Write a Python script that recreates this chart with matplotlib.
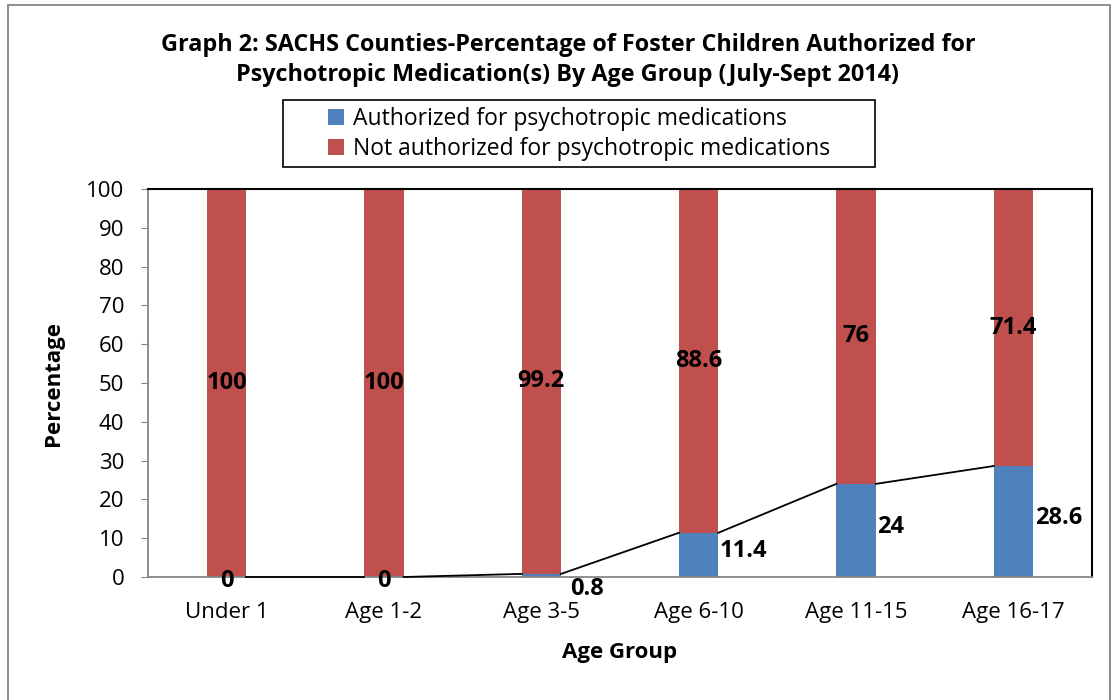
import numpy as np
import matplotlib.pyplot as plt
from matplotlib.patches import Rectangle

plt.rcParams['font.family'] = ['Open Sans', 'DejaVu Sans']

# Datos
grupos = ['Under 1', 'Age 1-2', 'Age 3-5', 'Age 6-10', 'Age 11-15', 'Age 16-17']
autorizados = [0, 0, 0.8, 11.4, 24, 28.6]
no_autorizados = [100, 100, 99.2, 88.6, 76, 71.4]
etiquetas_aut = ['0', '0', '0.8', '11.4', '24', '28.6']
etiquetas_no = ['100', '100', '99.2', '88.6', '76', '71.4']

azul = '#4F81BD'
rojo = '#C0504D'

fig = plt.figure(figsize=(11.17, 7), dpi=100)
ax = fig.add_axes([148 / 1117, 1 - 577 / 700, 944 / 1117, 388 / 700])

x = np.arange(len(grupos))
ancho = 0.25
b1 = ax.bar(x, autorizados, ancho, color=azul, label='Authorized for psychotropic medications', zorder=2)
b2 = ax.bar(x, no_autorizados, ancho, bottom=autorizados, color=rojo,
            label='Not authorized for psychotropic medications', zorder=2)

# lineas de serie (de la esquina derecha de una barra a la izquierda de la siguiente)
for i in range(len(x) - 1):
    ax.plot([x[i] + ancho / 2, x[i + 1] - ancho / 2], [autorizados[i], autorizados[i + 1]],
            color='black', lw=1.3, zorder=3, clip_on=False)

# etiquetas
tam = 17
for i in range(len(x)):
    ax.text(x[i], autorizados[i] + no_autorizados[i] / 2, etiquetas_no[i], ha='center', va='center',
            fontsize=tam, fontweight='bold', zorder=4)
    if autorizados[i] == 0:
        ax.text(x[i], -1, etiquetas_aut[i], ha='center', va='center', fontsize=tam,
                fontweight='bold', zorder=4, clip_on=False)
    elif autorizados[i] < 5:
        ax.text(x[i] + ancho / 2 + 0.06, -3.2, etiquetas_aut[i], ha='left', va='center',
                fontsize=tam, fontweight='bold', zorder=4, clip_on=False)
    else:
        ax.text(x[i] + ancho / 2 + 0.01, autorizados[i] / 2 + 1, etiquetas_aut[i], ha='left', va='center',
                fontsize=tam, fontweight='bold', zorder=4)

ax.set_xlim(-0.5, 5.5)
ax.set_ylim(0, 100)
ax.set_yticks(range(0, 101, 10))
ax.set_xticks(x)
ax.set_xticklabels(grupos, fontsize=16)
ax.tick_params(axis='y', labelsize=16, length=5, color='#868686', pad=12)
ax.tick_params(axis='x', length=0, pad=18)
for lado in ['left', 'bottom']:
    ax.spines[lado].set_color('#868686')
    ax.spines[lado].set_linewidth(1.3)
for lado in ['top', 'right']:
    ax.spines[lado].set_color('black')
    ax.spines[lado].set_linewidth(1.5)

ax.set_ylabel('Percentage', fontsize=16, fontweight='bold', labelpad=16)
ax.set_xlabel('Age Group', fontsize=16, fontweight='bold', labelpad=14)

fig.text(568 / 1117, 1 - 60 / 700,
         'Graph 2: SACHS Counties-Percentage of Foster Children Authorized for\n'
         'Psychotropic Medication(s) By Age Group (July-Sept 2014)',
         ha='center', va='center', fontsize=16.8, fontweight='bold', linespacing=1.35)

leg = fig.legend(loc='center', bbox_to_anchor=(579 / 1117, 1 - 134 / 700), fontsize=16.5,
                 frameon=False, handlelength=0.7, handleheight=0.7, handletextpad=0.4,
                 borderpad=0.25, labelspacing=0.25, borderaxespad=0)
# marco de la leyenda
fig.patches.append(Rectangle((283 / 1117, 1 - 167 / 700), 592 / 1117, 67 / 700,
                             transform=fig.transFigure, fill=False, edgecolor='black', lw=1.2))

# marco exterior
fig.patches.append(Rectangle((8 / 1117, -0.01), 1102 / 1117, 1 - 5 / 700 + 0.01,
                             transform=fig.transFigure, fill=False, edgecolor='#868686', lw=1.3))

fig.savefig('out.png', dpi=100)
